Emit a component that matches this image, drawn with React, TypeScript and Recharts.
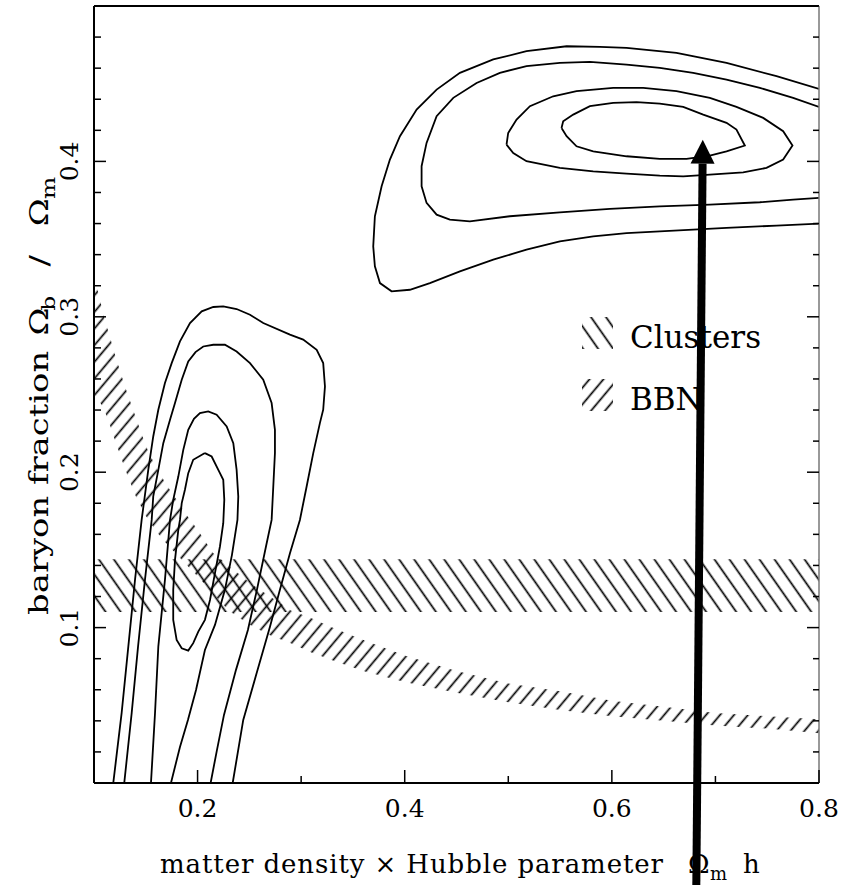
import React from 'react';
import { ComposedChart, Line, Area, XAxis, YAxis, ReferenceLine, Legend } from 'recharts';

const FONT = '"DejaVu Serif", "Liberation Serif", serif';

// axis ticks
const xTicks = [0.1, 0.2, 0.3, 0.4, 0.5, 0.6, 0.7, 0.8];
const xTickLabels = ['0.2', '0.4', '0.6', '0.8'];
const yTicks = [0, 0.02, 0.04, 0.06, 0.08, 0.1, 0.12, 0.14, 0.16, 0.18, 0.2, 0.22, 0.24, 0.26, 0.28, 0.3,
  0.32, 0.34, 0.36, 0.38, 0.4, 0.42, 0.44, 0.46, 0.48, 0.5];
const yTickLabels = ['0.1', '0.2', '0.3', '0.4'];

// left group of contours (innermost first), [x, y]
const lowC1 = [[0.2071, 0.2123], [0.1958, 0.208], [0.191, 0.1994], [0.1878, 0.1887], [0.1847, 0.1801], [0.183, 0.1693],
  [0.1814, 0.1629], [0.1782, 0.1436], [0.1765, 0.1243], [0.1765, 0.105], [0.1798, 0.0921], [0.1847, 0.0867], [0.191, 0.0852],
  [0.1958, 0.09], [0.2007, 0.0974], [0.2071, 0.105], [0.212, 0.1178], [0.2168, 0.135], [0.2216, 0.1522], [0.2248, 0.1672],
  [0.2258, 0.1822], [0.2248, 0.1951], [0.2216, 0.1994], [0.2136, 0.2101], [0.2071, 0.2123]];
const lowC2 = [[0.155, 0], [0.1589, 0.0449], [0.1621, 0.0878], [0.1685, 0.1307], [0.1734, 0.1693], [0.1765, 0.1822],
  [0.1814, 0.1972], [0.1862, 0.2144], [0.191, 0.2273], [0.1965, 0.2344], [0.2023, 0.2381], [0.2103, 0.2391], [0.2184, 0.237],
  [0.2281, 0.2294], [0.2345, 0.2187], [0.2377, 0.2015], [0.2393, 0.1844], [0.2385, 0.1693], [0.2332, 0.1468], [0.2264, 0.1243],
  [0.2168, 0.1017], [0.2071, 0.0856], [0.1985, 0.0599], [0.1907, 0.0406], [0.183, 0.0232], [0.1743, 0]];
const lowC3 = [[0.1292, 0], [0.1364, 0.0451], [0.1425, 0.0876], [0.1492, 0.1307], [0.1557, 0.1693], [0.1572, 0.1844],
  [0.1621, 0.2015], [0.1669, 0.2187], [0.1734, 0.2337], [0.1782, 0.2445], [0.1847, 0.2595], [0.191, 0.2713], [0.198, 0.2773],
  [0.2055, 0.2809], [0.2152, 0.282], [0.2264, 0.282], [0.2377, 0.2777], [0.2506, 0.2702], [0.2634, 0.2595], [0.2715, 0.2445],
  [0.2747, 0.2273], [0.2747, 0.2123], [0.2731, 0.1908], [0.2715, 0.1693], [0.266, 0.152], [0.2573, 0.1243], [0.2486, 0.0985],
  [0.2371, 0.0728], [0.2255, 0.0438], [0.2187, 0.0212], [0.2126, 0]];
const lowC4 = [[0.1186, 0], [0.1267, 0.0451], [0.1331, 0.0876], [0.1396, 0.1307], [0.146, 0.1693], [0.1524, 0.2015],
  [0.1572, 0.223], [0.1621, 0.2402], [0.1685, 0.2574], [0.175, 0.2702], [0.183, 0.2842], [0.1927, 0.296], [0.204, 0.3035],
  [0.2152, 0.3063], [0.2248, 0.3067], [0.2377, 0.305], [0.2506, 0.3013], [0.2634, 0.296], [0.2892, 0.2885], [0.302, 0.2853],
  [0.315, 0.2788], [0.3213, 0.2702], [0.323, 0.2552], [0.3213, 0.2402], [0.3181, 0.2316], [0.3117, 0.2123], [0.3053, 0.1908],
  [0.2988, 0.1693], [0.2892, 0.1479], [0.2795, 0.1243], [0.2699, 0.1006], [0.257, 0.0706], [0.2441, 0.0406], [0.2339, 0]];

// upper right group of contours
const highC1 = [[0.5514, 0.4215], [0.553, 0.4258], [0.5627, 0.4301], [0.5788, 0.4355], [0.6013, 0.4376], [0.6238, 0.4381],
  [0.6463, 0.4372], [0.6689, 0.4351], [0.6882, 0.4301], [0.7107, 0.4248], [0.7203, 0.4205], [0.7284, 0.4102], [0.7107, 0.4065],
  [0.6946, 0.4037], [0.6721, 0.4016], [0.6463, 0.4016], [0.6142, 0.4033], [0.582, 0.4065], [0.5659, 0.4097], [0.5563, 0.4162],
  [0.5514, 0.4215]];
const highC2 = [[0.4983, 0.4108], [0.4999, 0.4183], [0.508, 0.4269], [0.5209, 0.4355], [0.5434, 0.4419], [0.5659, 0.4452],
  [0.6013, 0.4473], [0.6303, 0.4473], [0.6624, 0.4452], [0.6946, 0.4409], [0.7203, 0.4351], [0.7461, 0.428], [0.7654, 0.4194],
  [0.7744, 0.4102], [0.7654, 0.4012], [0.7493, 0.3958], [0.7268, 0.393], [0.6946, 0.3915], [0.6689, 0.3904], [0.6463, 0.3909],
  [0.6142, 0.3921], [0.582, 0.3936], [0.5498, 0.3958], [0.5176, 0.4001], [0.5048, 0.4054], [0.4983, 0.4108]];
const highC3 = [[0.8, 0.4351], [0.775, 0.4409], [0.7429, 0.4473], [0.7107, 0.4527], [0.6785, 0.457], [0.6463, 0.4602],
  [0.6142, 0.4623], [0.5788, 0.464], [0.5498, 0.4634], [0.5176, 0.4613], [0.4919, 0.457], [0.4694, 0.4505], [0.4469, 0.4409],
  [0.4308, 0.4291], [0.4211, 0.4119], [0.4163, 0.3969], [0.4163, 0.384], [0.4211, 0.3733], [0.4308, 0.3657], [0.4436, 0.3625],
  [0.4629, 0.3614], [0.5015, 0.3647], [0.5498, 0.3672], [0.5981, 0.3694], [0.6463, 0.3711], [0.6946, 0.3722], [0.7429, 0.3737],
  [0.775, 0.3754], [0.8, 0.3765]];
const highC4 = [[0.8, 0.4467], [0.759, 0.4548], [0.7107, 0.4634], [0.6624, 0.4698], [0.6142, 0.4731], [0.5884, 0.4737],
  [0.5563, 0.4741], [0.5176, 0.4709], [0.4855, 0.4656], [0.4533, 0.457], [0.4308, 0.4462], [0.4115, 0.4334], [0.3954, 0.4162],
  [0.3857, 0.4012], [0.3777, 0.384], [0.3712, 0.3647], [0.3696, 0.3453], [0.3712, 0.3325], [0.3761, 0.3217], [0.3873, 0.3164],
  [0.405, 0.3174], [0.4243, 0.3217], [0.4533, 0.3292], [0.4855, 0.3368], [0.5176, 0.3432], [0.5498, 0.3486], [0.582, 0.3518],
  [0.6142, 0.3539], [0.6463, 0.355], [0.6785, 0.3561], [0.7107, 0.3572], [0.759, 0.3587], [0.8, 0.3599]];

// hatched bands
const clusterX = [0.1, 0.8];
const clusterLow = [0.11, 0.11];
const clusterHigh = [0.144, 0.144];

const bbnX = [0.1, 0.105, 0.11, 0.115, 0.12, 0.13, 0.14, 0.15, 0.16, 0.17, 0.18, 0.19, 0.2, 0.215, 0.23, 0.25, 0.27, 0.29,
  0.31, 0.33, 0.36, 0.4, 0.45, 0.5, 0.55, 0.6, 0.65, 0.7, 0.75, 0.8];
const bbnHigh = [0.326, 0.313, 0.299, 0.288, 0.276, 0.255, 0.236, 0.217, 0.203, 0.192, 0.182, 0.172, 0.163, 0.148, 0.14,
  0.129, 0.12, 0.111, 0.106, 0.1, 0.092, 0.082, 0.072, 0.064, 0.059, 0.053, 0.049, 0.045, 0.043, 0.041];
const bbnLow = [0.25, 0.246, 0.24, 0.231, 0.221, 0.202, 0.185, 0.172, 0.162, 0.154, 0.147, 0.14, 0.133, 0.122, 0.111,
  0.102, 0.095, 0.09, 0.084, 0.079, 0.072, 0.065, 0.058, 0.052, 0.047, 0.043, 0.04, 0.037, 0.035, 0.032];

const legendNames = ['Clusters', 'BBN'];

// arrow (tail below the axis, head at the upper peak)
const arrowTail = { x: 0.6815, y: -0.07 };
const arrowHead = { x: 0.6878, y: 0.414 };

const pts = (a: number[][]) => a.map(([x, y]) => ({ x, y }));
const band = (xs: number[], lo: number[], hi: number[]) => xs.map((x, i) => ({ x, band: [lo[i], hi[i]] }));

const isLabelled = (v: number, labels: string[]) =>
  Math.abs(v * 10 - Math.round(v * 10)) < 1e-6 && labels.includes(v.toFixed(1));

const BottomTick = (p: any) => {
  const v = p.payload.value;
  const major = isLabelled(v, xTickLabels);
  return (
    <g>
      <line x1={p.x} y1={p.y} x2={p.x} y2={p.y - (major ? 13 : 7)} stroke="#000" strokeWidth={1.5} />
      {major && (
        <text x={p.x} y={p.y + 34} textAnchor="middle" fontFamily={FONT} fontSize={25} fill="#000">
          {v.toFixed(1)}
        </text>
      )}
    </g>
  );
};

const TopTick = (p: any) => (
  <line x1={p.x} y1={p.y} x2={p.x} y2={p.y + 13} stroke="#555" strokeWidth={1.5} />
);

const LeftTick = (p: any) => {
  const v = p.payload.value;
  const major = isLabelled(v, yTickLabels);
  const lx = p.x - 16;
  return (
    <g>
      <line x1={p.x} y1={p.y} x2={p.x + (major ? 12 : 7)} y2={p.y} stroke="#000" strokeWidth={1.5} />
      {major && (
        <text x={lx} y={p.y} transform={`rotate(-90, ${lx}, ${p.y})`} textAnchor="middle"
          fontFamily={FONT} fontSize={25} fill="#000">
          {v.toFixed(1)}
        </text>
      )}
    </g>
  );
};

const RightTick = (p: any) => {
  const major = Math.abs(p.payload.value * 10 - Math.round(p.payload.value * 10)) < 1e-6;
  return <line x1={p.x} y1={p.y} x2={p.x - (major ? 12 : 6)} y2={p.y} stroke="#000" strokeWidth={1.5} />;
};

const XTitle = () => (
  <g fontFamily={FONT} fill="#000">
    <text x={160} y={873} fontSize={26} textLength={503} lengthAdjust="spacing">matter density × Hubble parameter</text>
    <text x={688} y={873} fontSize={26}>Ω</text>
    <text x={710} y={880} fontSize={18}>m</text>
    <text x={743} y={873} fontSize={26}>h</text>
  </g>
);

// the vertical title is drawn stretched along its length, like the original
const YTitle = () => (
  <g fontFamily={FONT} fill="#000" transform="rotate(-90) scale(1.3, 1)">
    <text x={-473} y={48} fontSize={26}>baryon fraction</text>
    <text x={-258} y={48} fontSize={26}>Ω</text>
    <text x={-239} y={55} fontSize={18}>b</text>
    <text x={-205} y={48} fontSize={26}>/</text>
    <text x={-174} y={48} fontSize={26}>Ω</text>
    <text x={-153} y={55} fontSize={18}>m</text>
  </g>
);

const ArrowShape = (p: any) => {
  const { x1, y1, x2, y2 } = p;
  const len = Math.hypot(x2 - x1, y2 - y1);
  const ux = (x2 - x1) / len;
  const uy = (y2 - y1) / len;
  const bx = x2 - ux * 24;
  const by = y2 - uy * 24;
  return (
    <g>
      <line x1={x1} y1={y1} x2={bx} y2={by} stroke="#000" strokeWidth={8} />
      <polygon points={`${x2},${y2} ${bx - uy * 12},${by + ux * 12} ${bx + uy * 12},${by - ux * 12}`} fill="#000" />
    </g>
  );
};

const LegendBox = () => (
  <svg width={240} height={120}>
    {legendNames.map((name, i) => (
      <g key={name}>
        <rect x={7} y={12 + i * 62} width={31} height={32} fill={i === 0 ? 'url(#hatchClusters)' : 'url(#hatchBBN)'} />
        <text x={55} y={43 + i * 62} fontFamily={FONT} fontSize={31} fill="#000">{name}</text>
      </g>
    ))}
  </svg>
);

const contours = [lowC1, lowC2, lowC3, lowC4, highC1, highC2, highC3, highC4];

export default function App() {
  return (
    <div style={{ position: 'absolute', left: 0, top: 0, background: '#fff' }}>
      <ComposedChart width={856} height={885} margin={{ top: 0, right: 17, bottom: 62, left: 54 }}>
        <defs>
          <pattern id="hatchClusters" patternUnits="userSpaceOnUse" width={12.3} height={12.3} patternTransform="rotate(-35)">
            <line x1={6.15} y1={-1} x2={6.15} y2={13.3} stroke="#000" strokeWidth={1.7} />
          </pattern>
          <pattern id="hatchBBN" patternUnits="userSpaceOnUse" width={10.7} height={10.7} patternTransform="rotate(40)">
            <line x1={5.35} y1={-1} x2={5.35} y2={11.7} stroke="#000" strokeWidth={1.7} />
          </pattern>
        </defs>
        <XAxis dataKey="x" type="number" domain={[0.1, 0.8]} allowDataOverflow ticks={xTicks} interval={0}
          height={40} tickSize={0} tickMargin={0} tickLine={false} axisLine={{ stroke: '#000', strokeWidth: 2 }}
          tick={(p: any) => <BottomTick {...p} />} label={<XTitle />} />
        <XAxis xAxisId="top" orientation="top" type="number" domain={[0.1, 0.8]} allowDataOverflow ticks={xTicks.slice(1, 7)}
          interval={0} height={6} tickSize={0} tickMargin={0} tickLine={false} axisLine={{ stroke: '#000', strokeWidth: 2 }}
          tick={(p: any) => <TopTick {...p} />} />
        <YAxis type="number" domain={[0, 0.5]} allowDataOverflow ticks={yTicks} interval={0} width={40} tickSize={0}
          tickMargin={0} tickLine={false} axisLine={{ stroke: '#000', strokeWidth: 2 }}
          tick={(p: any) => <LeftTick {...p} />} label={<YTitle />} />
        <YAxis yAxisId="right" orientation="right" type="number" domain={[0, 0.5]} allowDataOverflow ticks={yTicks}
          interval={0} width={20} tickSize={0} tickMargin={0} tickLine={false} axisLine={{ stroke: '#777', strokeWidth: 1.5 }}
          tick={(p: any) => <RightTick {...p} />} />
        <Area data={band(clusterX, clusterLow, clusterHigh)} dataKey="band" type="linear" stroke="none"
          fill="url(#hatchClusters)" fillOpacity={1} dot={false} activeDot={false} isAnimationActive={false} />
        <Area data={band(bbnX, bbnLow, bbnHigh)} dataKey="band" type="linear" stroke="none"
          fill="url(#hatchBBN)" fillOpacity={1} dot={false} activeDot={false} isAnimationActive={false} />
        {contours.map((c, i) => (
          <Line key={i} data={pts(c)} dataKey="y" type="linear" stroke="#000" strokeWidth={1.8} dot={false}
            activeDot={false} isAnimationActive={false} />
        ))}
        <ReferenceLine segment={[arrowTail, arrowHead]} ifOverflow="visible" shape={(p: any) => <ArrowShape {...p} />} />
        <Legend verticalAlign="middle" align="center" layout="horizontal"
          wrapperStyle={{ left: 575, top: 305, width: 240, height: 120 }} content={() => <LegendBox />} />
      </ComposedChart>
    </div>
  );
}
